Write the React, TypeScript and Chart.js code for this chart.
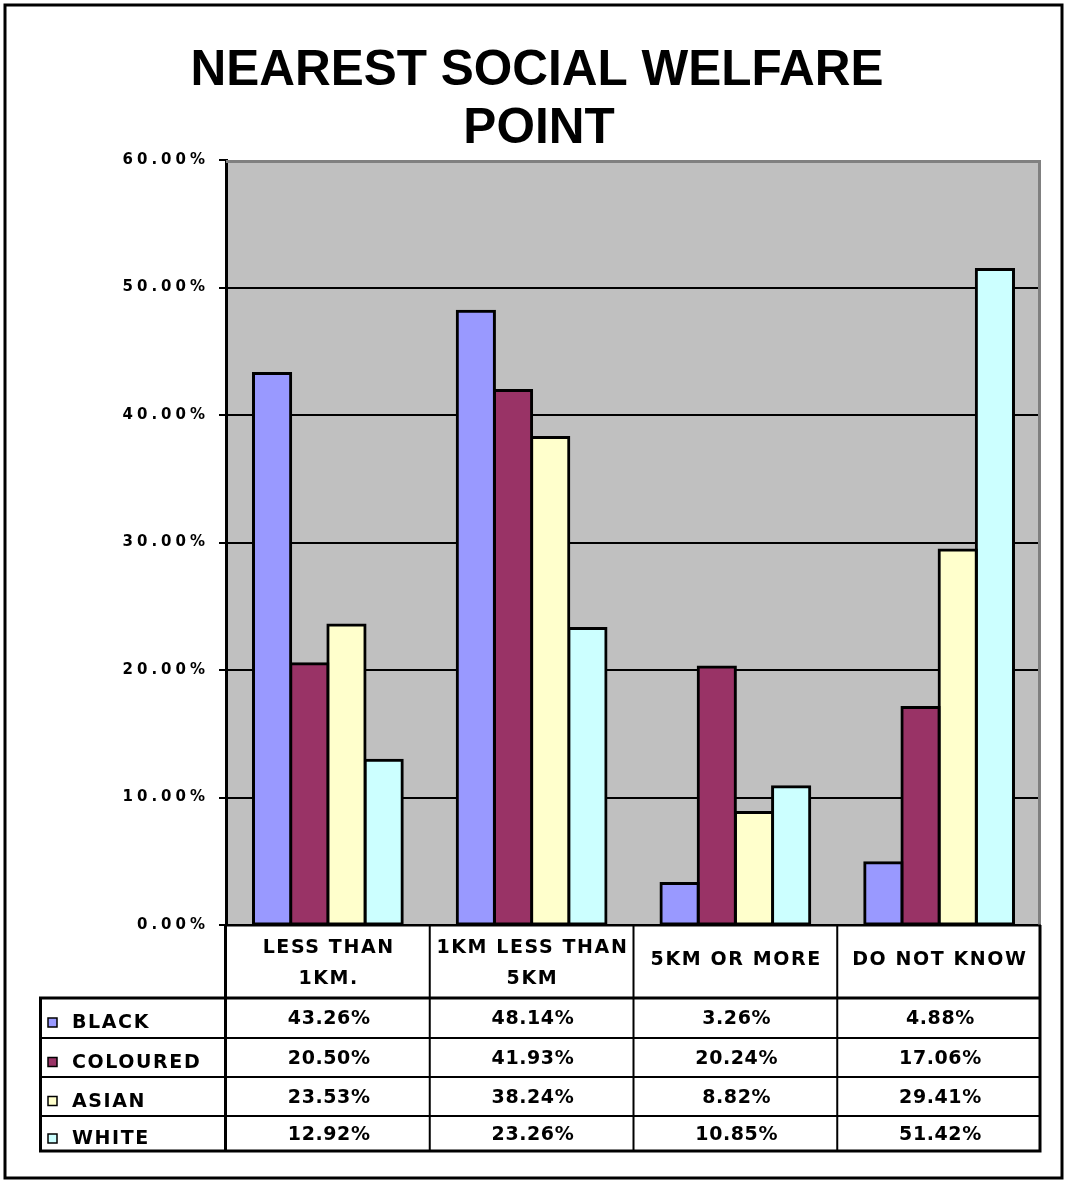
import React, { useEffect, useRef } from 'react';
import { Chart, registerables } from 'chart.js';

Chart.register(...registerables);

const titleLines = ['NEAREST SOCIAL WELFARE', 'POINT'];
const categories = [['LESS THAN', '1KM.'], ['1KM LESS THAN', '5KM'], ['5KM OR MORE'], ['DO NOT KNOW']];
const seriesNames = ['BLACK', 'COLOURED', 'ASIAN', 'WHITE'];
const seriesColors = ['#9999FF', '#993366', '#FFFFCC', '#CCFFFF'];
const blackValues = [43.26, 48.14, 3.26, 4.88];
const colouredValues = [20.5, 41.93, 20.24, 17.06];
const asianValues = [23.53, 38.24, 8.82, 29.41];
const whiteValues = [12.92, 23.26, 10.85, 51.42];
const yMin = 0;
const yMax = 60;
const yStep = 10;

const seriesValues = [blackValues, colouredValues, asianValues, whiteValues];

const W = 1067;
const H = 1182;

const fmt = (v: number) => v.toFixed(2) + '%';

const setSpacing = (ctx: any, px: number) => {
  try { ctx.letterSpacing = px + 'px'; } catch (e) {}
};

const decorPlugin = {
  id: 'decor',
  beforeDraw(chart: any) {
    const { ctx, chartArea } = chart;
    ctx.save();
    ctx.fillStyle = '#FFFFFF';
    ctx.fillRect(0, 0, chart.width, chart.height);
    ctx.fillStyle = '#C0C0C0';
    ctx.fillRect(chartArea.left, chartArea.top, chartArea.right - chartArea.left, chartArea.bottom - chartArea.top);
    // title
    ctx.fillStyle = '#000';
    ctx.font = 'bold 49.5px "Liberation Sans", Arial, sans-serif';
    ctx.textAlign = 'center';
    ctx.textBaseline = 'alphabetic';
    ctx.fillText(titleLines[0], 537, 85);
    ctx.fillText(titleLines[1], 539, 143);
    ctx.restore();
    // spacing for tick labels drawn by chart.js
    setSpacing(ctx, 4);
  },
  afterDatasetsDraw(chart: any) {
    const { ctx, chartArea } = chart;
    ctx.save();
    ctx.strokeStyle = '#808080';
    ctx.lineWidth = 3;
    ctx.beginPath();
    ctx.moveTo(chartArea.left, chartArea.top + 1.5);
    ctx.lineTo(chartArea.right - 1.5, chartArea.top + 1.5);
    ctx.lineTo(chartArea.right - 1.5, chartArea.bottom);
    ctx.stroke();
    ctx.restore();
  },
  afterDraw(chart: any) {
    const { ctx, chartArea, scales } = chart;
    const xs = scales.x;
    const n = categories.length;
    const left = chartArea.left;
    const right = chartArea.right;
    const bounds: number[] = [];
    for (let i = 0; i <= n; i++) {
      if (i === 0) bounds.push(left);
      else if (i === n) bounds.push(right);
      else bounds.push((xs.getPixelForValue(i - 1) + xs.getPixelForValue(i)) / 2);
    }
    const top = chartArea.bottom;
    const headerBottom = top + 73;
    const rowH = [40, 39, 39, 36];
    const rowTops: number[] = [headerBottom];
    for (let i = 0; i < rowH.length; i++) rowTops.push(rowTops[i] + rowH[i]);
    const tableBottom = rowTops[rowTops.length - 1];
    const tableLeft = 39;

    ctx.save();
    ctx.strokeStyle = '#000';
    // inner lines
    ctx.lineWidth = 2;
    ctx.beginPath();
    ctx.moveTo(left, top + 0.5);
    ctx.lineTo(right, top + 0.5);
    for (let i = 1; i < rowTops.length - 1; i++) {
      ctx.moveTo(tableLeft, rowTops[i]);
      ctx.lineTo(right, rowTops[i]);
    }
    for (let i = 1; i < n; i++) {
      ctx.moveTo(bounds[i], top);
      ctx.lineTo(bounds[i], tableBottom);
    }
    ctx.stroke();
    // thick lines
    ctx.lineWidth = 3;
    ctx.beginPath();
    ctx.moveTo(left - 0.5, top);
    ctx.lineTo(left - 0.5, tableBottom);
    ctx.moveTo(right - 1, top);
    ctx.lineTo(right - 1, tableBottom);
    ctx.moveTo(tableLeft, headerBottom);
    ctx.lineTo(right, headerBottom);
    ctx.moveTo(tableLeft + 1.5, headerBottom);
    ctx.lineTo(tableLeft + 1.5, tableBottom);
    ctx.moveTo(tableLeft, tableBottom - 1);
    ctx.lineTo(right + 0.5, tableBottom - 1);
    ctx.stroke();

    // header text
    ctx.fillStyle = '#000';
    ctx.font = 'bold 19px "DejaVu Sans", sans-serif';
    ctx.textAlign = 'center';
    ctx.textBaseline = 'alphabetic';
    const textLs = 1.6;
    const numLs = 0.6;
    setSpacing(ctx, textLs);
    const hc = (top + headerBottom) / 2;
    for (let i = 0; i < n; i++) {
      const cx = (bounds[i] + bounds[i + 1]) / 2 + textLs / 2;
      const lines = categories[i];
      if (lines.length === 1) {
        ctx.fillText(lines[0], cx, hc + 3);
      } else {
        ctx.fillText(lines[0], cx, hc - 9);
        ctx.fillText(lines[1], cx, hc + 22);
      }
    }
    // rows
    for (let r = 0; r < seriesNames.length; r++) {
      const y0 = rowTops[r];
      const y1 = rowTops[r + 1];
      const cy = (y0 + y1) / 2;
      // legend key
      ctx.fillStyle = seriesColors[r];
      ctx.fillRect(48, cy, 9, 9);
      ctx.lineWidth = 1.5;
      ctx.strokeStyle = '#000';
      ctx.strokeRect(48, cy, 9, 9);
      ctx.fillStyle = '#000';
      ctx.textAlign = 'left';
      setSpacing(ctx, textLs);
      ctx.fillText(seriesNames[r], 72, cy + 10);
      ctx.textAlign = 'center';
      setSpacing(ctx, numLs);
      for (let i = 0; i < n; i++) {
        const cx = (bounds[i] + bounds[i + 1]) / 2 + 1 + numLs / 2;
        ctx.fillText(fmt(seriesValues[r][i]), cx, cy + 6);
      }
    }

    // outer border
    setSpacing(ctx, 0);
    ctx.lineWidth = 3;
    ctx.strokeStyle = '#000';
    ctx.strokeRect(5, 5, W - 10, H - 9);
    ctx.restore();
  },
};

export default function App() {
  const ref = useRef<HTMLCanvasElement>(null);
  useEffect(() => {
    document.body.style.margin = '0';
    const canvas = ref.current!;
    const chart = new Chart(canvas, {
      type: 'bar',
      data: {
        labels: categories.map((c) => c.join(' ')),
        datasets: seriesNames.map((name, i) => ({
          label: name,
          data: seriesValues[i],
          backgroundColor: seriesColors[i],
          borderColor: '#000000',
          borderWidth: 3,
          borderSkipped: false,
          inflateAmount: 1.5,
          categoryPercentage: 0.73,
          barPercentage: 1,
        })),
      },
      options: {
        animation: false,
        responsive: false,
        devicePixelRatio: 1,
        layout: { padding: { left: 0, right: 26, top: 160, bottom: 257 } },
        plugins: {
          legend: { display: false },
          title: { display: false },
          tooltip: { enabled: false },
        },
        scales: {
          x: { display: false },
          y: {
            min: yMin,
            max: yMax,
            ticks: {
              stepSize: yStep,
              callback: (v: any) => fmt(Number(v)),
              color: '#000',
              font: { family: '"DejaVu Sans", sans-serif', size: 15, weight: 'bold' },
              padding: 10,
            },
            grid: {
              color: (c: any) => (c.tick && c.tick.value === yMax ? 'rgba(0,0,0,0)' : '#000000'),
              lineWidth: 2,
              tickLength: 7,
              tickColor: '#000000',
              tickWidth: 2,
            },
            border: { display: true, color: '#000000', width: 3 },
            afterFit: (scale: any) => {
              scale.width = 226;
            },
          },
        },
      },
      plugins: [decorPlugin],
    } as any);
    return () => chart.destroy();
  }, []);
  return <canvas ref={ref} width={W} height={H} style={{ display: 'block', width: W, height: H }} />;
}
